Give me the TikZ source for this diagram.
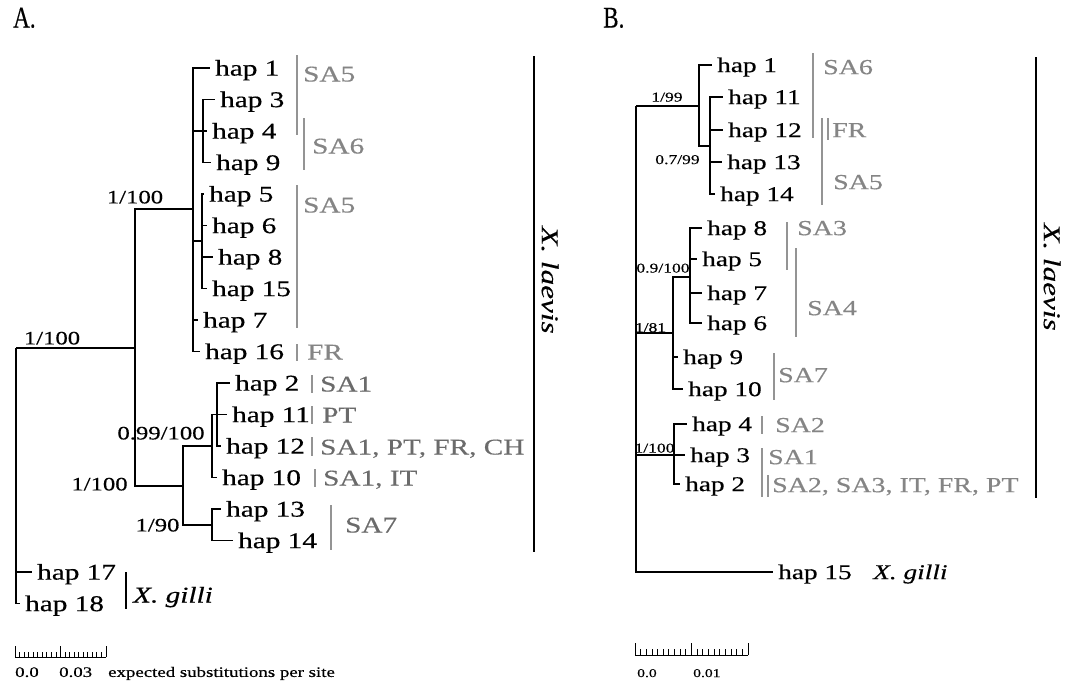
\documentclass[tikz,border=0pt]{standalone}
\usepackage{fontspec}
\setmainfont{Liberation Serif}[FakeStretch=1.3,FakeBold=0.4]
\newfontfamily\panelfont{Liberation Serif}[FakeStretch=0.77,FakeBold=0.3]
\begin{document}
\begin{tikzpicture}[x=1pt,y=-1pt,
 br/.style={line width=1.4pt, black},
 bar/.style={line width=1.1pt, black!42},
 kbar/.style={line width=1.2pt, black},
 ruler/.style={line width=0.9pt, black},
 hapA/.style={font=\fontsize{22.5}{24}\selectfont, anchor=west, inner xsep=5pt, inner ysep=0pt, text height=15.2pt, text depth=0pt},
 hapB/.style={font=\fontsize{21}{23}\selectfont, anchor=west, inner xsep=5pt, inner ysep=0pt, text height=14.2pt, text depth=0pt},
 grA/.style={font=\fontsize{22.5}{24}\selectfont, anchor=west, inner sep=0pt, text height=15pt, text depth=0pt, text=black!48},
 grA2/.style={grA, text=black!58},
 grB/.style={font=\fontsize{21.5}{23}\selectfont, anchor=west, inner sep=0pt, text height=14.3pt, text depth=0pt, text=black!48},
 supA/.style={font=\fontsize{19}{20}\selectfont, inner sep=0pt, text height=12.8pt, text depth=0pt},
 supB/.style={font=\fontsize{13.5}{14}\selectfont, inner sep=0pt, text height=9.1pt, text depth=0pt},
 sclA/.style={font=\fontsize{14.5}{16}\selectfont, anchor=west, inner sep=0pt, text height=9.8pt, text depth=0pt},
 sclB/.style={font=\fontsize{12}{14}\selectfont, anchor=west, inner sep=0pt, text height=8.1pt, text depth=0pt},
 panel/.style={font=\panelfont\fontsize{30}{32}\selectfont, anchor=west, inner sep=0pt, text height=20pt, text depth=0pt},
 spA/.style={font=\itshape\fontsize{22.5}{24}\selectfont, anchor=west, inner sep=0pt, text height=15pt, text depth=0pt},
 spB/.style={font=\itshape\fontsize{21}{23}\selectfont, anchor=west, inner sep=0pt, text height=14.2pt, text depth=0pt},
 lae/.style={font=\itshape\fontsize{24}{26}\selectfont, rotate=-90, inner sep=0pt}
]
\useasboundingbox (0,0) rectangle (1075,681);

% ---------------- Panel A ----------------
\node[panel] (pA) at (13,17.5) {A.};

\node[hapA] (a1) at (210,68) {hap 1};
\node[hapA] (a3) at (215,99.5) {hap 3};
\node[hapA] (a4) at (207,131) {hap 4};
\node[hapA] (a9) at (211,162.5) {hap 9};
\node[hapA] (a5) at (204,194) {hap 5};
\node[hapA] (a6) at (207,225.5) {hap 6};
\node[hapA] (a8) at (213,257) {hap 8};
\node[hapA] (a15) at (207,288.5) {hap 15};
\node[hapA] (a7) at (198,320) {hap 7};
\node[hapA] (a16) at (200,351.5) {hap 16};
\node[hapA] (a2) at (230,383) {hap 2};
\node[hapA] (a11) at (227,414.5) {hap 11};
\node[hapA] (a12) at (221,446) {hap 12};
\node[hapA] (a10) at (217,477.5) {hap 10};
\node[hapA] (a13) at (221,509) {hap 13};
\node[hapA] (a14) at (233,540.5) {hap 14};
\node[hapA] (a17) at (32,572) {hap 17};
\node[hapA] (a18) at (20,603.5) {hap 18};

\coordinate (rA) at (16,348);
\coordinate (nA1) at (135,348);
\coordinate (nA2) at (193,209);
\coordinate (nA4) at (203,131);
\coordinate (nA5) at (202,241);
\coordinate (nA3) at (183,486);
\coordinate (nA6) at (212,446);
\coordinate (nA8) at (217,414.5);
\coordinate (nA7) at (212,525);

\draw[br] (rA) |- (nA1);
\draw[br] (rA) |- (a17.west);
\draw[br] (rA) |- (a18.west);
\draw[br] (nA1) |- (nA2);
\draw[br] (nA1) |- (nA3);
\foreach \t in {a1,nA4,nA5,a7,a16} \draw[br] (nA2) |- (\t);
\foreach \t in {a3,a4,a9} \draw[br] (nA4) |- (\t.west);
\foreach \t in {a5,a6,a8,a15} \draw[br] (nA5) |- (\t.west);
\draw[br] (nA3) |- (nA6);
\draw[br] (nA3) |- (nA7);
\draw[br] (nA6) |- (nA8);
\draw[br] (nA6) |- (a10.west);
\foreach \t in {a2,a11,a12} \draw[br] (nA8) |- (\t.west);
\foreach \t in {a13,a14} \draw[br] (nA7) |- (\t.west);

\node[supA] (sA1) at (52,338) {1/100};
\node[supA] (sA2) at (135,197) {1/100};
\node[supA] (sA3) at (161,433) {0.99/100};
\node[supA] (sA4) at (99.5,484) {1/100};
\node[supA] (sA5) at (157.5,525) {1/90};

% grey location labels A
\draw[bar] (297,55) -- (297,135);
\node[grA] (gA1) at (303,74) {SA5};
\draw[bar] (304,118) -- (304,170);
\node[grA] (gA2) at (312,146) {SA6};
\draw[bar] (297,185) -- (297,328);
\node[grA] (gA3) at (303,205) {SA5};
\draw[bar] (297,344) -- (297,361);
\node[grA] (gA4) at (307,352) {FR};
\draw[bar] (312,375) -- (312,393);
\node[grA2] (gA5) at (320,384) {SA1};
\draw[bar] (312,406) -- (312,424);
\node[grA2] (gA6) at (322,415) {PT};
\draw[bar] (312,437) -- (312,456);
\node[grA2] (gA7) at (320,447) {SA1, PT, FR, CH};
\draw[bar] (315,469) -- (315,487);
\node[grA2] (gA8) at (323,478) {SA1, IT};
\draw[bar] (331,505) -- (331,550);
\node[grA2] (gA9) at (345,525) {SA7};

\draw[kbar] (534,56) -- (534,552);
\node[lae] (xlA) at (550,280) {X. laevis};
\draw[kbar] (126,572) -- (126,609);
\node[spA] (xgA) at (133,595) {X. gilli};

% scale bar A
\draw[ruler] (15,657) -- (106,657);
\foreach \i in {0,...,20} \draw[ruler] ({15+\i*4.55},657) -- ++(0,-5);
\foreach \i in {0,10,20} \draw[ruler] ({15+\i*4.55},657) -- ++(0,-11);
\node[sclA] (kA1) at (15,672) {0.0};
\node[sclA] (kA2) at (59,672) {0.03};
\node[sclA] (kA3) at (108,672) {expected substitutions per site};

% ---------------- Panel B ----------------
\node[panel] (pB) at (603,17.5) {B.};

\node[hapB] (b1) at (712,65) {hap 1};
\node[hapB] (b11) at (723,97) {hap 11};
\node[hapB] (b12) at (723,130) {hap 12};
\node[hapB] (b13) at (722,162) {hap 13};
\node[hapB] (b14) at (715,194) {hap 14};
\node[hapB] (b8) at (702,228) {hap 8};
\node[hapB] (b5) at (697,259) {hap 5};
\node[hapB] (b7) at (702,293) {hap 7};
\node[hapB] (b6) at (702,323) {hap 6};
\node[hapB] (b9) at (678,357) {hap 9};
\node[hapB] (b10) at (683,389) {hap 10};
\node[hapB] (b4) at (687,424) {hap 4};
\node[hapB] (b3) at (685,455) {hap 3};
\node[hapB] (b2) at (680,484) {hap 2};
\node[hapB] (b15) at (773,572) {hap 15};

\coordinate (rB) at (636,106);
\coordinate (nB1) at (699,106);
\coordinate (nB4) at (710,146);
\coordinate (nB2) at (673,333);
\coordinate (nB5) at (690,277);
\coordinate (nB3) at (674,455);

\draw[br] (rB) |- (nB1);
\draw[br] (rB) |- (nB2);
\draw[br] (rB) |- (nB3);
\draw[br] (rB) |- (b15.west);
\draw[br] (nB1) |- (b1.west);
\draw[br] (nB1) |- (nB4);
\foreach \t in {b11,b12,b13,b14} \draw[br] (nB4) |- (\t.west);
\draw[br] (nB2) |- (nB5);
\foreach \t in {b9,b10} \draw[br] (nB2) |- (\t.west);
\foreach \t in {b8,b5,b7,b6} \draw[br] (nB5) |- (\t.west);
\foreach \t in {b4,b3,b2} \draw[br] (nB3) |- (\t.west);

\node[supB] (sB1) at (667,97) {1/99};
\node[supB] (sB2) at (677.5,159.5) {0.7/99};
\node[supB] (sB3) at (663,268) {0.9/100};
\node[supB] (sB4) at (650.5,327.5) {1/81};
\node[supB] (sB5) at (654.5,448) {1/100};

% grey location labels B
\draw[bar] (813,53) -- (813,138);
\node[grB] (gB1) at (823,67) {SA6};
\draw[bar] (822,118) -- (822,205);
\draw[bar] (828,118) -- (828,140);
\node[grB] (gB2) at (832,130) {FR};
\node[grB] (gB3) at (833,182) {SA5};
\draw[bar] (787,222) -- (787,270);
\node[grB] (gB4) at (797,228) {SA3};
\draw[bar] (796,248) -- (796,337);
\node[grB] (gB5) at (807,308) {SA4};
\draw[bar] (774,353) -- (774,400);
\node[grB] (gB6) at (778,375) {SA7};
\draw[bar] (762,416) -- (762,434);
\node[grB] (gB7) at (775,425) {SA2};
\draw[bar] (762,448) -- (762,497);
\node[grB] (gB8) at (768,457) {SA1};
\draw[bar] (768,475) -- (768,497);
\node[grB] (gB9) at (772,485) {SA2, SA3, IT, FR, PT};

\draw[kbar] (1036,57) -- (1036,498);
\node[lae] (xlB) at (1052,277) {X. laevis};
\node[spB] (xgB) at (873,572) {X. gilli};

% scale bar B
\draw[ruler] (635,655) -- (748,655);
\foreach \i in {0,...,20} \draw[ruler] ({635+\i*5.65},655) -- ++(0,-6);
\foreach \i in {0,10,20} \draw[ruler] ({635+\i*5.65},655) -- ++(0,-12);
\node[sclB] (kB1) at (637,673) {0.0};
\node[sclB] (kB2) at (693,673) {0.01};
\end{tikzpicture}
\end{document}
